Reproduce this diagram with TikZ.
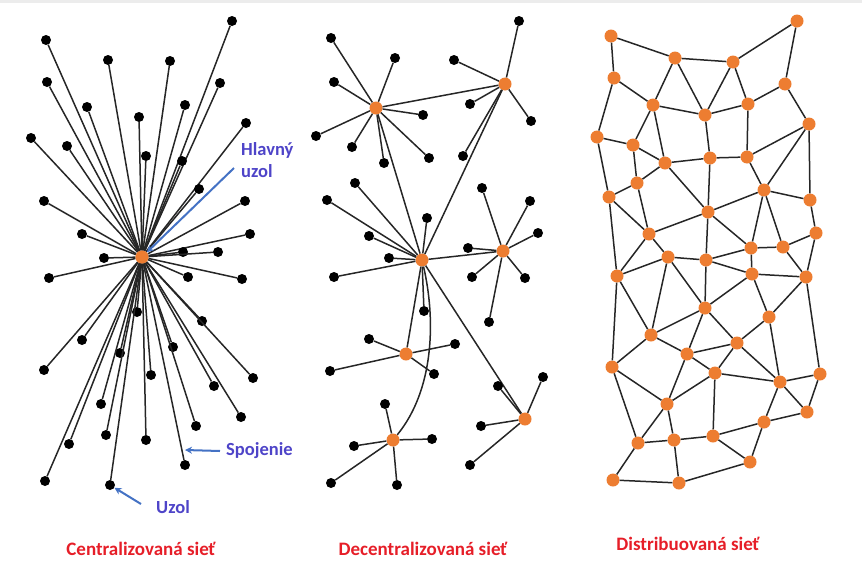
\documentclass[tikz,border=0pt]{standalone}
\usepackage{fontspec}
\setmainfont{Carlito}
\usetikzlibrary{arrows.meta}
\definecolor{hubor}{RGB}{237,125,49}
\definecolor{lblue}{RGB}{78,68,200}
\definecolor{ablue}{RGB}{68,114,196}
\definecolor{lred}{RGB}{230,30,40}
\tikzset{
  leaf/.style={circle,fill=black,inner sep=0pt,minimum size=10pt},
  hubn/.style={circle,fill=hubor,inner sep=0pt,minimum size=13pt},
  dnode/.style={circle,fill=hubor,inner sep=0pt,minimum size=13pt},
  link/.style={line width=1.5pt,black!85},
  callout/.style={line width=2pt,ablue,-{Stealth[length=7pt,width=7pt]}},
  bluelbl/.style={text=lblue,font=\fontsize{18.5}{22}\selectfont\bfseries,inner sep=0pt},
  redlbl/.style={text=lred,font=\fontsize{19}{23}\selectfont\bfseries,inner sep=0pt}
}
\begin{document}
\begin{tikzpicture}[x=1pt,y=-1pt]
\useasboundingbox (0,0) rectangle (862,584);
\fill[gray!15] (0,0) rectangle (862,3);

% ---------- Centralized ----------
\node[hubn] (ch) at (142,257) {};
\foreach \x/\y [count=\i] in {232/21,46/40,108/60,170/61,47/82,220/83,87/107,185/105,139/117,246/123,31/138,67/146,146/156,182/161,199/189,44/201,245/201,82/234,250/234,183/252,218/252,104/258,49/278,188/277,242/279,137/312,202/321,82/340,173/347,120/353,44/370,151/375,253/378,214/386,101/404,241/417,196/426,106/435,69/444,146/440,185/465,45/481,110/485}
{
  \node[leaf] (c\i) at (\x,\y) {};
  \draw[link] (ch) -- (c\i);
}
\node[hubn] at (ch) {};

\node[bluelbl,anchor=north west,align=left] (hl) at (241,142) {Hlavný\\uzol};
\coordinate (hlstart) at (234,168);
\draw[callout] (hlstart) -- (ch);

\node[bluelbl,anchor=west] (spoj) at (226,451) {Spojenie};
\coordinate (spstart) at (220,451);
\coordinate (spend) at (185,450);
\draw[callout] (spstart) -- (spend);

\node[bluelbl,anchor=west] (uzl) at (156,507) {Uzol};
\coordinate (uzstart) at (141,504);
\draw[callout] (uzstart) -- (c43);

% ---------- Decentralized ----------
\node[hubn] (A) at (376,108) {};
\node[hubn] (B) at (505,84) {};
\node[hubn] (C) at (422,260) {};
\node[hubn] (D) at (503,251) {};
\node[hubn] (E) at (406,354) {};
\node[hubn] (F) at (393,440) {};
\node[hubn] (G) at (525,419) {};

\draw[link] (A) -- (B);
\draw[link] (A) -- (C);
\draw[link] (B) -- (C);
\draw[link] (C) -- (D);
\draw[link] (C) -- (E);
\draw[link] (C) -- (G);
\draw[link] (C) .. controls (436,320) and (434,390) .. (F);

\foreach \x/\y [count=\i] in {331/38,395/58,334/82,423/115,316/136,352/147,429/158,384/163}
{ \node[leaf] (a\i) at (\x,\y) {}; \draw[link] (A) -- (a\i); }
\foreach \x/\y [count=\i] in {519/21,454/60,470/104,531/121,463/156}
{ \node[leaf] (b\i) at (\x,\y) {}; \draw[link] (B) -- (b\i); }
\foreach \x/\y [count=\i] in {355/183,327/200,427/218,369/236,389/258,334/277,424/311}
{ \node[leaf] (cc\i) at (\x,\y) {}; \draw[link] (C) -- (cc\i); }
\foreach \x/\y [count=\i] in {482/188,530/201,538/233,468/248,472/277,525/278,489/322}
{ \node[leaf] (d\i) at (\x,\y) {}; \draw[link] (D) -- (d\i); }
\foreach \x/\y [count=\i] in {369/339,455/344,330/371,434/374}
{ \node[leaf] (e\i) at (\x,\y) {}; \draw[link] (E) -- (e\i); }
\foreach \x/\y [count=\i] in {385/404,432/439,354/446,331/483,397/485}
{ \node[leaf] (f\i) at (\x,\y) {}; \draw[link] (F) -- (f\i); }
\foreach \x/\y [count=\i] in {498/386,543/377,481/426,470/465}
{ \node[leaf] (g\i) at (\x,\y) {}; \draw[link] (G) -- (g\i); }

% ---------- Distributed ----------
\foreach \x/\y [count=\i] in {611/36,675/58,733/62,797/21,614/78,785/84,653/105,705/115,748/104,809/124,597/137,633/145,665/163,710/158,747/157,637/183,764/190,609/197,810/200,708/212,649/234,816/233,751/248,783/247,668/257,706/260,617/276,752/274,806/277,705/308,769/317,651/335,737/343,687/354,612/367,715/373,780/382,820/374,667/404,807/412,764/422,638/443,674/440,713/436,750/462,613/480,679/483}
{ \node[dnode] (n\i) at (\x,\y) {}; }
\foreach \a/\b in {1/2,1/5,2/3,3/4,4/6,2/7,2/8,3/8,3/9,5/7,5/11,7/8,8/9,6/9,6/10,7/12,7/13,8/14,9/15,10/15,10/17,10/19,11/12,11/18,12/13,12/16,13/14,14/15,13/16,16/18,15/17,13/20,14/20,17/20,17/19,18/21,20/21,16/21,17/23,17/24,20/23,20/26,19/22,21/25,22/24,23/24,25/26,23/26,18/27,21/27,25/27,25/32,25/30,26/30,26/28,23/28,28/29,24/29,22/29,28/30,28/31,29/31,27/32,27/35,30/32,30/34,30/33,31/33,31/37,32/34,32/35,33/34,33/36,33/37,34/36,34/39,36/37,29/38,37/38,37/40,38/40,37/41,40/41,35/39,35/42,36/39,36/44,39/42,39/43,42/43,43/44,44/41,44/45,41/45,42/46,46/47,43/47,47/45}
{ \draw[link] (n\a) -- (n\b); }

% ---------- Titles ----------
\node[redlbl] (t1) at (141,549) {Centralizovaná sieť};
\node[redlbl] (t2) at (423,549) {Decentralizovaná sieť};
\node[redlbl] (t3) at (688,544) {Distribuovaná sieť};
\end{tikzpicture}
\end{document}
